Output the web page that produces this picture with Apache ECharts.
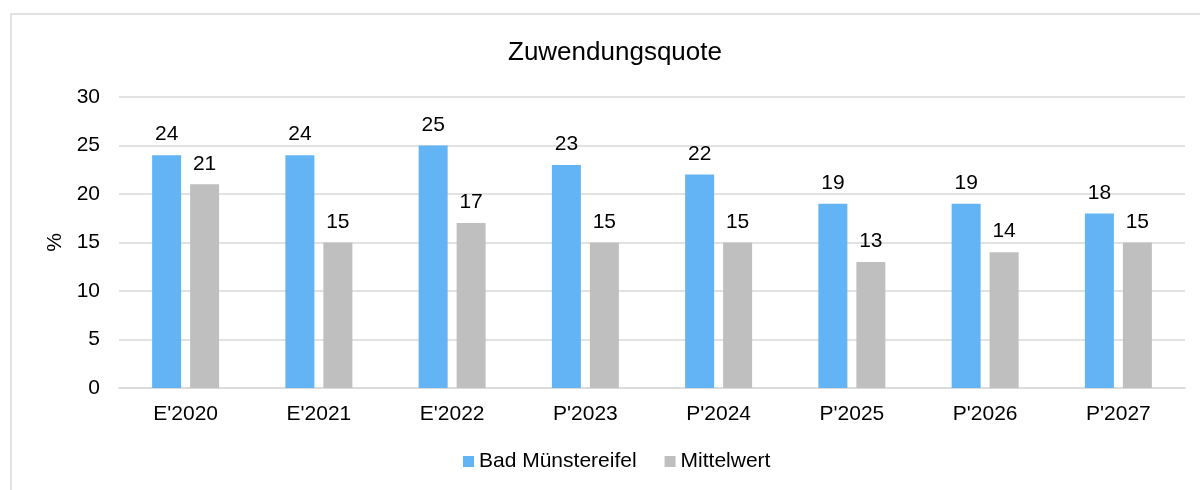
<!DOCTYPE html>
<html lang="de" style="height: 100%">
  <head>
    <meta charset="utf-8" />
    <script src="https://cdn.jsdelivr.net/npm/echarts@6/dist/echarts.min.js"></script>
  </head>
  <body style="height: 100%; margin: 0; background: #fff">
    <div id="container" style="width: 1200px; height: 490px"></div>

    <script type="text/javascript">
      var categories = ["E'2020", "E'2021", "E'2022", "P'2023", "P'2024", "P'2025", "P'2026", "P'2027"];
      var badMuenstereifel = [24, 24, 25, 23, 22, 19, 19, 18];
      var mittelwert = [21, 15, 17, 15, 15, 13, 14, 15];

      var font = "Liberation Sans, Arial, sans-serif";
      var myChart = echarts.init(document.getElementById("container"), null, {
        renderer: "canvas",
      });

      var option = {
        animation: false,
        textStyle: { fontFamily: font },
        graphic: [
          {
            type: "rect",
            shape: { x: 11, y: 14, width: 1200, height: 500 },
            style: { fill: "none", stroke: "#d9d9d9", lineWidth: 1.5 },
            silent: true,
          },
        ],
        title: {
          text: "Zuwendungsquote",
          left: 503,
          top: 35,
          textStyle: { fontSize: 26, fontWeight: "normal", color: "#000", fontFamily: font },
        },
        legend: {
          bottom: 13,
          left: 458,
          itemWidth: 11,
          itemHeight: 11,
          itemGap: 28,
          icon: "rect",
          textStyle: { fontSize: 21, color: "#000", fontFamily: font },
          data: ["Bad Münstereifel", "Mittelwert"],
        },
        grid: { left: 119, right: 15, top: 97, bottom: 102, containLabel: false },
        xAxis: {
          type: "category",
          data: categories,
          axisLine: { lineStyle: { color: "#d9d9d9", width: 1.5 } },
          axisTick: { show: false },
          axisLabel: { fontSize: 21, color: "#000", margin: 16 },
        },
        yAxis: {
          type: "value",
          min: 0,
          max: 30,
          interval: 5,
          name: "%",
          nameLocation: "middle",
          nameGap: 52,
          nameRotate: 90,
          nameTextStyle: { fontSize: 21, color: "#000" },
          axisLine: { show: false },
          axisTick: { show: false },
          axisLabel: { fontSize: 21, color: "#000", margin: 19 },
          splitLine: { lineStyle: { color: "#d9d9d9", width: 1.5 } },
        },
        series: [
          {
            name: "Bad Münstereifel",
            type: "bar",
            data: badMuenstereifel,
            barWidth: 29,
            barGap: "31%",
            itemStyle: { color: "#63B4F5" },
            label: { show: true, position: "top", distance: 10, fontSize: 21, color: "#000" },
          },
          {
            name: "Mittelwert",
            type: "bar",
            data: mittelwert,
            barWidth: 29,
            itemStyle: { color: "#BFBFBF" },
            label: { show: true, position: "top", distance: 10, fontSize: 21, color: "#000" },
          },
        ],
      };

      myChart.setOption(option);
      window.addEventListener("resize", myChart.resize);
    </script>
  </body>
</html>
